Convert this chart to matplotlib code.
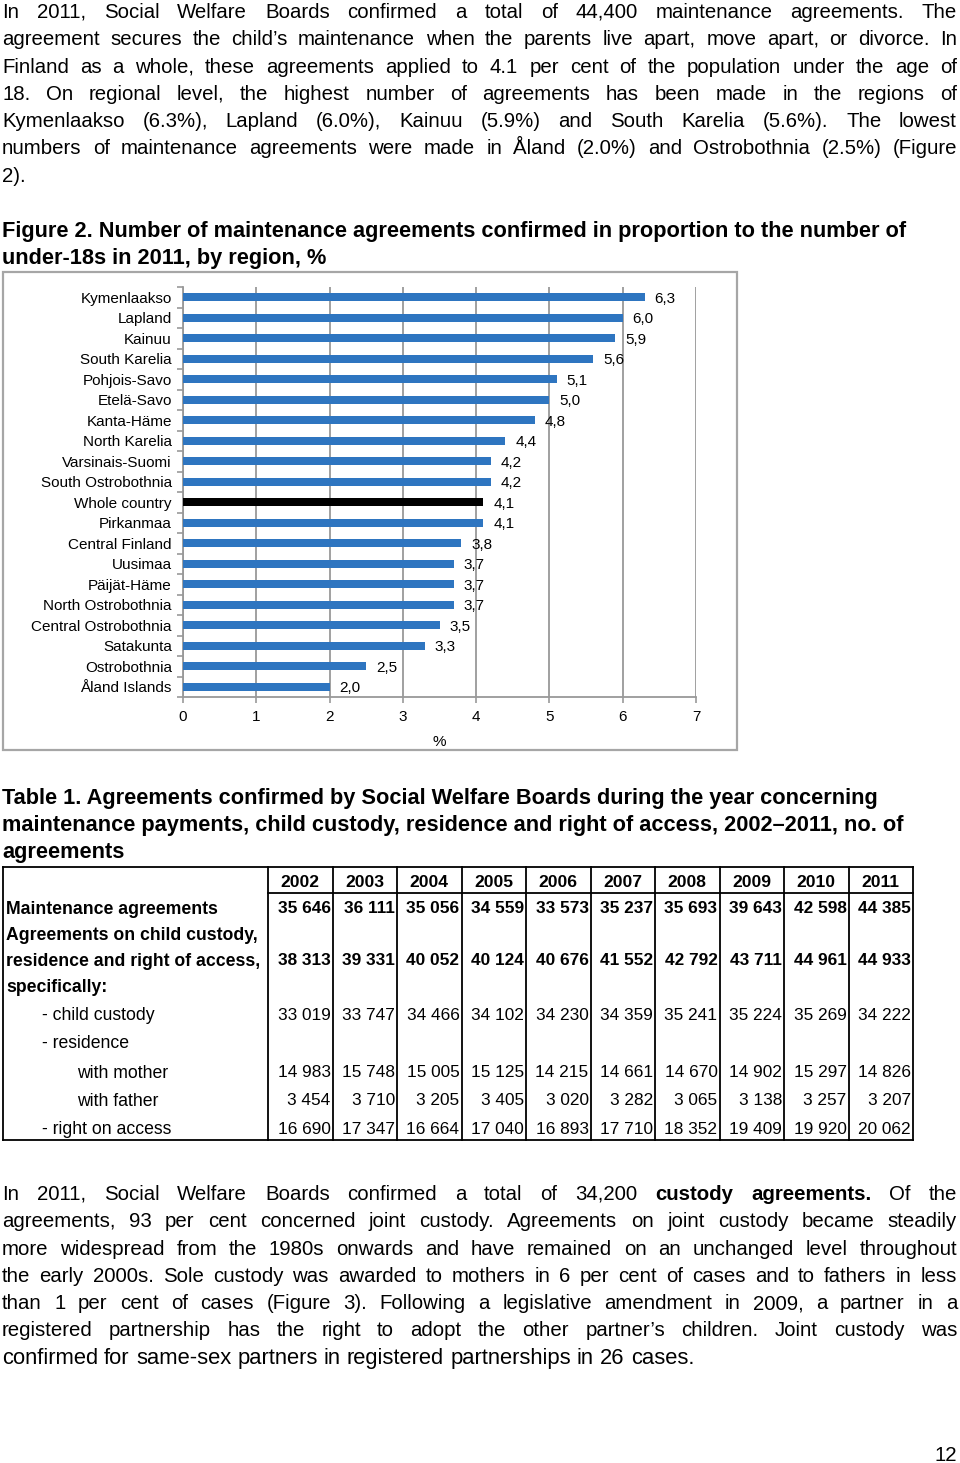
import matplotlib
matplotlib.use('Agg')
import matplotlib.pyplot as plt
from matplotlib.patches import Rectangle

plt.rcParams['font.family'] = ['Liberation Sans', 'DejaVu Sans']

# Figure 2 data
regions = ['Kymenlaakso', 'Lapland', 'Kainuu', 'South Karelia', 'Pohjois-Savo',
           'Etelä-Savo', 'Kanta-Häme', 'North Karelia', 'Varsinais-Suomi',
           'South Ostrobothnia', 'Whole country', 'Pirkanmaa', 'Central Finland',
           'Uusimaa', 'Päijät-Häme', 'North Ostrobothnia', 'Central Ostrobothnia',
           'Satakunta', 'Ostrobothnia', 'Åland Islands']
shares = [6.3, 6.0, 5.9, 5.6, 5.1, 5.0, 4.8, 4.4, 4.2, 4.2, 4.1, 4.1, 3.8,
          3.7, 3.7, 3.7, 3.5, 3.3, 2.5, 2.0]
x_ticks = [0, 1, 2, 3, 4, 5, 6, 7]

# Table 1 data
years = ['2002', '2003', '2004', '2005', '2006', '2007', '2008', '2009', '2010', '2011']
maintenance = [35646, 36111, 35056, 34559, 33573, 35237, 35693, 39643, 42598, 44385]
custody_total = [38313, 39331, 40052, 40124, 40676, 41552, 42792, 43711, 44961, 44933]
child_custody = [33019, 33747, 34466, 34102, 34230, 34359, 35241, 35224, 35269, 34222]
with_mother = [14983, 15748, 15005, 15125, 14215, 14661, 14670, 14902, 15297, 14826]
with_father = [3454, 3710, 3205, 3405, 3020, 3282, 3065, 3138, 3257, 3207]
right_access = [16690, 17347, 16664, 17040, 16893, 17710, 18352, 19409, 19920, 20062]

para1 = [
    "In 2011, Social Welfare Boards confirmed a total of 44,400 maintenance agreements. The",
    "agreement secures the child’s maintenance when the parents live apart, move apart, or divorce. In",
    "Finland as a whole, these agreements applied to 4.1 per cent of the population under the age of",
    "18. On regional level, the highest number of agreements has been made in the regions of",
    "Kymenlaakso (6.3%), Lapland (6.0%), Kainuu (5.9%) and South Karelia (5.6%). The lowest",
    "numbers of maintenance agreements were made in Åland (2.0%) and Ostrobothnia (2.5%) (Figure",
    "2).",
]
para2 = [
    "In 2011, Social Welfare Boards confirmed a total of 34,200 *custody *agreements. Of the",
    "agreements, 93 per cent concerned joint custody. Agreements on joint custody became steadily",
    "more widespread from the 1980s onwards and have remained on an unchanged level throughout",
    "the early 2000s. Sole custody was awarded to mothers in 6 per cent of cases and to fathers in less",
    "than 1 per cent of cases (Figure 3). Following a legislative amendment in 2009, a partner in a",
    "registered partnership has the right to adopt the other partner’s children. Joint custody was",
    "confirmed for same-sex partners in registered partnerships in 26 cases.",
]

fig = plt.figure(figsize=(9.6, 14.63), dpi=100)
page = fig.add_axes([0, 0, 1, 1])
page.set_xlim(0, 960)
page.set_ylim(1463, 0)
page.axis('off')
renderer = fig.canvas.get_renderer()

BODY = 14.7
HEAD = 15.7


def text_width(s, size, weight):
    t = page.text(0, 0, s, fontsize=size, fontweight=weight)
    w = t.get_window_extent(renderer).width
    t.remove()
    return w


def draw_line(line, y, justify, size=BODY, left=2, right=957):
    words = line.split(' ')
    weights = ['bold' if w.startswith('*') else 'normal' for w in words]
    words = [w.lstrip('*') for w in words]
    widths = [text_width(w, size, wt) for w, wt in zip(words, weights)]
    if justify and len(words) > 1:
        gap = (right - left - sum(widths)) / (len(words) - 1)
    else:
        gap = text_width('a a', size, 'normal') - 2 * text_width('a', size, 'normal')
    x = left
    for w, wt, wd in zip(words, weights, widths):
        page.text(x, y, w, fontsize=size, fontweight=wt, va='baseline', ha='left')
        x += wd + gap


def draw_para(lines, y0, step=27.3, last_size=BODY):
    for i, line in enumerate(lines):
        last = i == len(lines) - 1
        draw_line(line, y0 + i * step, not last, size=last_size if last else BODY)


draw_para(para1, 18)
page.text(2, 237, "Figure 2. Number of maintenance agreements confirmed in proportion to the number of",
          fontsize=HEAD, fontweight='bold', va='baseline')
page.text(2, 264, "under-18s in 2011, by region, %", fontsize=HEAD, fontweight='bold', va='baseline')

# chart frame
page.add_patch(Rectangle((3, 272), 734, 478, fill=False, edgecolor='#a6a6a6', lw=1.6))

ax = fig.add_axes([183 / 960, 1 - 697 / 1463, (696 - 183) / 960, (697 - 287) / 1463])
pos = list(range(len(regions)))
colors = ['black' if r == 'Whole country' else '#2E75C0' for r in regions]
ax.barh(pos, shares, height=0.37, color=colors, zorder=3)
for p, v in zip(pos, shares):
    ax.annotate(f"{v:.1f}".replace('.', ','), (v, p), xytext=(7, -1), textcoords='offset points',
                va='center', ha='left', fontsize=11, zorder=4)
ax.set_xlim(0, 7)
ax.set_ylim(len(regions) - 0.5, -0.5)
ax.set_xticks(x_ticks)
ax.set_yticks(pos)
ax.set_yticklabels(regions, fontsize=11)
ax.set_yticks([p + 0.5 for p in range(-1, len(regions))], minor=True)
ax.tick_params(axis='y', which='major', length=0, pad=8)
ax.tick_params(axis='y', which='minor', length=4, color='#999999', width=1.2)
ax.tick_params(axis='x', labelsize=11, length=4, color='#999999', width=1.2, pad=5)
ax.grid(axis='x', color='#999999', lw=1.3, zorder=1)
ax.set_axisbelow(True)
for s in ['top', 'right']:
    ax.spines[s].set_visible(False)
for s in ['left', 'bottom']:
    ax.spines[s].set_color('#999999')
    ax.spines[s].set_linewidth(1.3)
ax.set_xlabel('%', fontsize=11, labelpad=8)

# Table 1
page.text(2, 804, "Table 1. Agreements confirmed by Social Welfare Boards during the year concerning",
          fontsize=HEAD, fontweight='bold', va='baseline')
page.text(2, 831, "maintenance payments, child custody, residence and right of access, 2002–2011, no. of",
          fontsize=HEAD, fontweight='bold', va='baseline')
page.text(2, 858, "agreements", fontsize=HEAD, fontweight='bold', va='baseline')

col_edges = [268 + i * 64.5 for i in range(11)]
top, head_bottom, bottom = 867, 893, 1140
lk = dict(color='black', lw=1.3)
page.plot([3, 913], [top, top], **lk)
page.plot([3, 913], [bottom, bottom], **lk)
page.plot([268, 913], [head_bottom, head_bottom], **lk)
page.plot([3, 3], [top, bottom], **lk)
for xe in col_edges:
    page.plot([xe, xe], [top, bottom], **lk)

for i, yr in enumerate(years):
    page.text((col_edges[i] + col_edges[i + 1]) / 2, 881, yr, fontsize=12.6, fontweight='bold',
              ha='center', va='center_baseline')

row_labels = [
    ("Maintenance agreements", 6, 907, 'bold'),
    ("Agreements on child custody,", 6, 933, 'bold'),
    ("residence and right of access,", 6, 959, 'bold'),
    ("specifically:", 6, 986, 'bold'),
    ("- child custody", 42, 1014, 'normal'),
    ("- residence", 42, 1042, 'normal'),
    ("with mother", 77, 1071, 'normal'),
    ("with father", 77, 1099, 'normal'),
    ("- right on access", 42, 1128, 'normal'),
]
for s, x, y, wt in row_labels:
    page.text(x, y, s, fontsize=12.7, fontweight=wt, ha='left', va='center_baseline')

table_rows = [
    (maintenance, 907, 'bold'),
    (custody_total, 959, 'bold'),
    (child_custody, 1014, 'normal'),
    (with_mother, 1071, 'normal'),
    (with_father, 1099, 'normal'),
    (right_access, 1128, 'normal'),
]
for vals, y, wt in table_rows:
    for i, v in enumerate(vals):
        page.text(col_edges[i + 1] - 2, y, f"{v:,}".replace(',', ' '), fontsize=12.4, fontweight=wt,
                  ha='right', va='center_baseline')

draw_para(para2, 1200, last_size=15.8)
page.text(957, 1461, "12", fontsize=BODY, ha='right', va='baseline')

fig.savefig('out.png', dpi=100)
